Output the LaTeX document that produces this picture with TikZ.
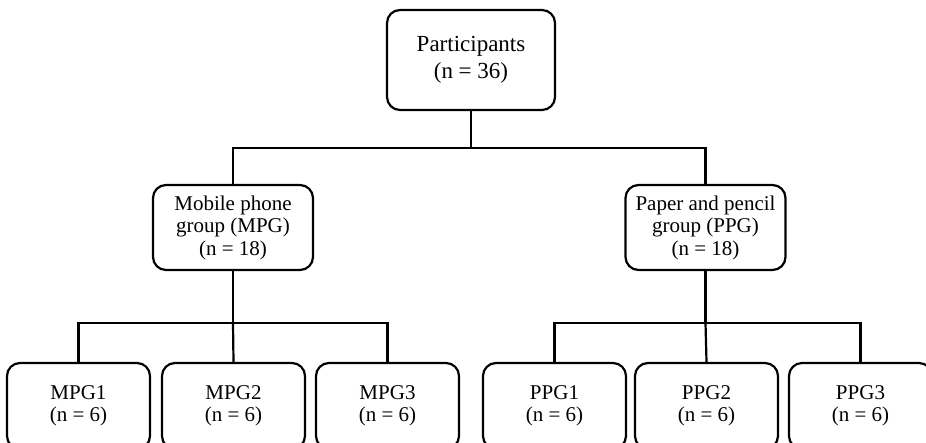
\documentclass[tikz,border=0pt]{standalone}
\usepackage{fontspec}
\setmainfont{Liberation Serif}
\usepackage{xcolor}
\usepackage{tikz}
\usetikzlibrary{positioning}

\begin{document}
\begin{tikzpicture}[
  x=1pt, y=-1pt,
  font=\fontsize{21}{22.5}\selectfont,
  box/.style={draw, line width=2.2pt, rounded corners=13pt, align=center, inner sep=0pt},
  topbox/.style={box, minimum width=168pt, minimum height=100pt, font=\fontsize{23}{27}\selectfont},
  groupbox/.style={box, minimum width=160pt, minimum height=85pt},
  subbox/.style={box, minimum width=143pt, minimum height=86pt},
  link/.style={line width=2.2pt}
]
\path[use as bounding box] (0,0) rectangle (926,443);
% Top: all participants
\node[topbox] (root) at (471,60) {Participants\\(n = 36)};

% Middle: the two groups
\node[groupbox] (mpg) at (233,227.5) {Mobile phone\\group (MPG)\\(n = 18)};
\node[groupbox] (ppg) at (705.5,227.5) {Paper and pencil\\group (PPG)\\(n = 18)};
\coordinate (split) at (471,148);
\draw[link] (root.south) -- (split);
\draw[link] (mpg.north) |- (split) -| (ppg.north);

% Bottom: subgroups
\node[subbox] (mpg1) at (78.5,406) {MPG1\\(n = 6)};
\node[subbox] (mpg2) at (233.5,406) {MPG2\\(n = 6)};
\node[subbox] (mpg3) at (387.5,406) {MPG3\\(n = 6)};
\node[subbox] (ppg1) at (554.5,406) {PPG1\\(n = 6)};
\node[subbox] (ppg2) at (706.5,406) {PPG2\\(n = 6)};
\node[subbox] (ppg3) at (860.5,406) {PPG3\\(n = 6)};
\coordinate (msplit) at (233,323);
\coordinate (psplit) at (705.5,323);
\draw[link] (mpg.south) -- (msplit);
\draw[link] (mpg1.north) |- (msplit) -| (mpg3.north);
\draw[link] (msplit) -- (mpg2.north);
\draw[link] (ppg.south) -- (psplit);
\draw[link] (ppg1.north) |- (psplit) -| (ppg3.north);
\draw[link] (psplit) -- (ppg2.north);
\end{tikzpicture}
\end{document}
